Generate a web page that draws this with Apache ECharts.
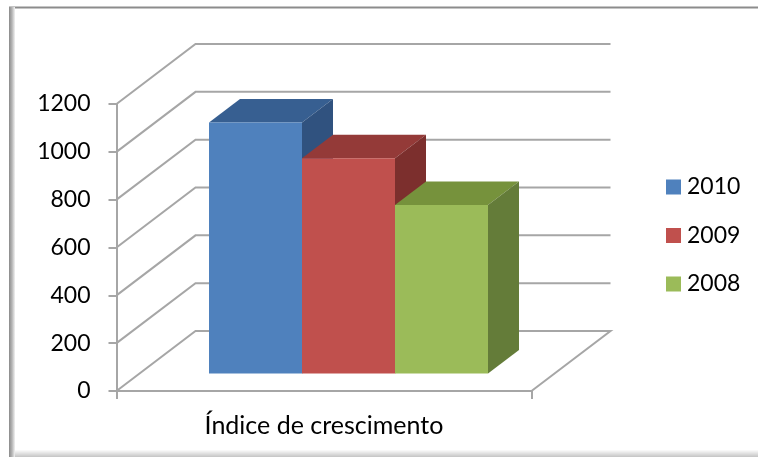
<!DOCTYPE html>
<html>
<head>
<meta charset="utf-8">
<style>
  html, body { margin: 0; padding: 0; background: #fff; }
  #container { width: 758px; height: 457px; }
</style>
<script src="https://cdn.jsdelivr.net/npm/echarts@6/dist/echarts.min.js"></script>
</head>
<body>
<div id="container"></div>
<script>
var categories = ['Índice de crescimento'];
var yearNames = ['2010', '2009', '2008'];
var values2010 = [1050];
var values2009 = [900];
var values2008 = [705];
var wallTicks = [0, 200, 400, 600, 800, 1000, 1200];

var fontName = 'Lato';
var gridColor = '#a6a6a6';
var textColor = '#000';

// fake 3d: wall depth and bar depth in pixels
var wallDx = 79, wallDy = -60;
var barDx = 31, barDy = -23.5;
var barInsetX = 24.5, barInsetY = -17.5;
var barW = 93;

function wallItem(params, api) {
    var v = api.value(1);
    var cs = params.coordSys;
    var y = api.coord([0, v])[1];
    var x0 = cs.x;
    var x1 = cs.x + cs.width;
    var pts = [[x0, y], [x0 + wallDx, y + wallDy], [x1 + wallDx, y + wallDy]];
    if (v === 0) {
        pts.push([x1, y]);
    }
    return {
        type: 'polyline',
        shape: { points: pts },
        style: { stroke: gridColor, fill: null, lineWidth: 2 }
    };
}

function barSeries(name, values, slot, front, top, side) {
    return {
        name: name,
        type: 'custom',
        itemStyle: { color: front },
        data: values.map(function (v, i) { return [i, v]; }),
        z: 3 + slot,
        clip: false,
        renderItem: function (params, api) {
            var c = api.coord([api.value(0), api.value(1)]);
            var b = api.coord([api.value(0), 0]);
            var x = c[0] + barInsetX + (slot - 1.5) * barW;
            var yTop = c[1] + barInsetY;
            var yBase = b[1] + barInsetY;
            return {
                type: 'group',
                children: [
                    {
                        type: 'polygon',
                        shape: { points: [[x, yTop], [x + barDx, yTop + barDy], [x + barW + barDx, yTop + barDy], [x + barW, yTop]] },
                        style: { fill: top }
                    },
                    {
                        type: 'polygon',
                        shape: { points: [[x + barW, yTop], [x + barW + barDx, yTop + barDy], [x + barW + barDx, yBase + barDy], [x + barW, yBase]] },
                        style: { fill: side }
                    },
                    {
                        type: 'rect',
                        shape: { x: x, y: yTop, width: barW, height: yBase - yTop },
                        style: { fill: front }
                    }
                ]
            };
        }
    };
}

var dom = document.getElementById('container');
var myChart = echarts.init(dom, null, { renderer: 'canvas' });

var option = {
    animation: false,
    backgroundColor: '#fff',
    textStyle: { fontFamily: fontName },
    grid: { left: 116.5, right: 226.5, top: 104, bottom: 66, containLabel: false },
    legend: {
        orient: 'vertical',
        left: 666,
        top: 173,
        padding: 0,
        itemWidth: 15,
        itemHeight: 15,
        itemGap: 20.5,
        icon: 'rect',
        selectedMode: false,
        data: yearNames,
        textStyle: { fontFamily: fontName, fontSize: 23, lineHeight: 28, color: textColor, padding: [0, 0, 0, 1] }
    },
    xAxis: {
        type: 'category',
        data: categories,
        axisLine: { lineStyle: { color: gridColor, width: 2 } },
        axisTick: { show: true, length: 8, lineStyle: { color: gridColor, width: 2 } },
        axisLabel: { fontSize: 25, color: textColor, margin: 22, fontFamily: fontName },
        splitLine: { show: false }
    },
    yAxis: {
        type: 'value',
        min: 0,
        max: 1200,
        interval: 200,
        axisLine: { show: true, lineStyle: { color: gridColor, width: 2 } },
        axisTick: { show: true, length: 8, lineStyle: { color: gridColor, width: 2 } },
        axisLabel: {
            fontSize: 23,
            color: textColor,
            margin: 26,
            padding: [3, 0, 0, 0],
            fontFamily: fontName,
            formatter: function (v) { return String(v); }
        },
        splitLine: { show: false }
    },
    graphic: [
        // chart frame: gray top line, soft shadow at left and bottom
        { type: 'rect', shape: { x: 9, y: 6.5, width: 749, height: 2 }, style: { fill: '#8c8c8c' }, z: 0 },
        {
            type: 'rect', shape: { x: 9, y: 7, width: 6, height: 450 }, z: 0,
            style: { fill: new echarts.graphic.LinearGradient(0, 0, 1, 0, [
                { offset: 0, color: '#8a8a8a' }, { offset: 0.5, color: '#b5b5b5' }, { offset: 1, color: '#f2f2f2' }
            ]) }
        },
        {
            type: 'rect', shape: { x: 15, y: 450, width: 743, height: 7 }, z: 0,
            style: { fill: new echarts.graphic.LinearGradient(0, 0, 0, 1, [
                { offset: 0, color: '#fcfcfc' }, { offset: 1, color: '#c4c4c4' }
            ]) }
        }
    ],
    series: [
        {
            type: 'custom',
            name: 'paredes',
            data: wallTicks.map(function (v) { return [0, v]; }),
            z: 1,
            clip: false,
            silent: true,
            renderItem: wallItem
        },
        barSeries(yearNames[0], values2010, 0, '#4f81bd', '#375f91', '#30527f'),
        barSeries(yearNames[1], values2009, 1, '#c0504d', '#943a38', '#7c2f2d'),
        barSeries(yearNames[2], values2008, 2, '#9bbb59', '#76923c', '#647c39')
    ]
};

myChart.setOption(option);
</script>
</body>
</html>
